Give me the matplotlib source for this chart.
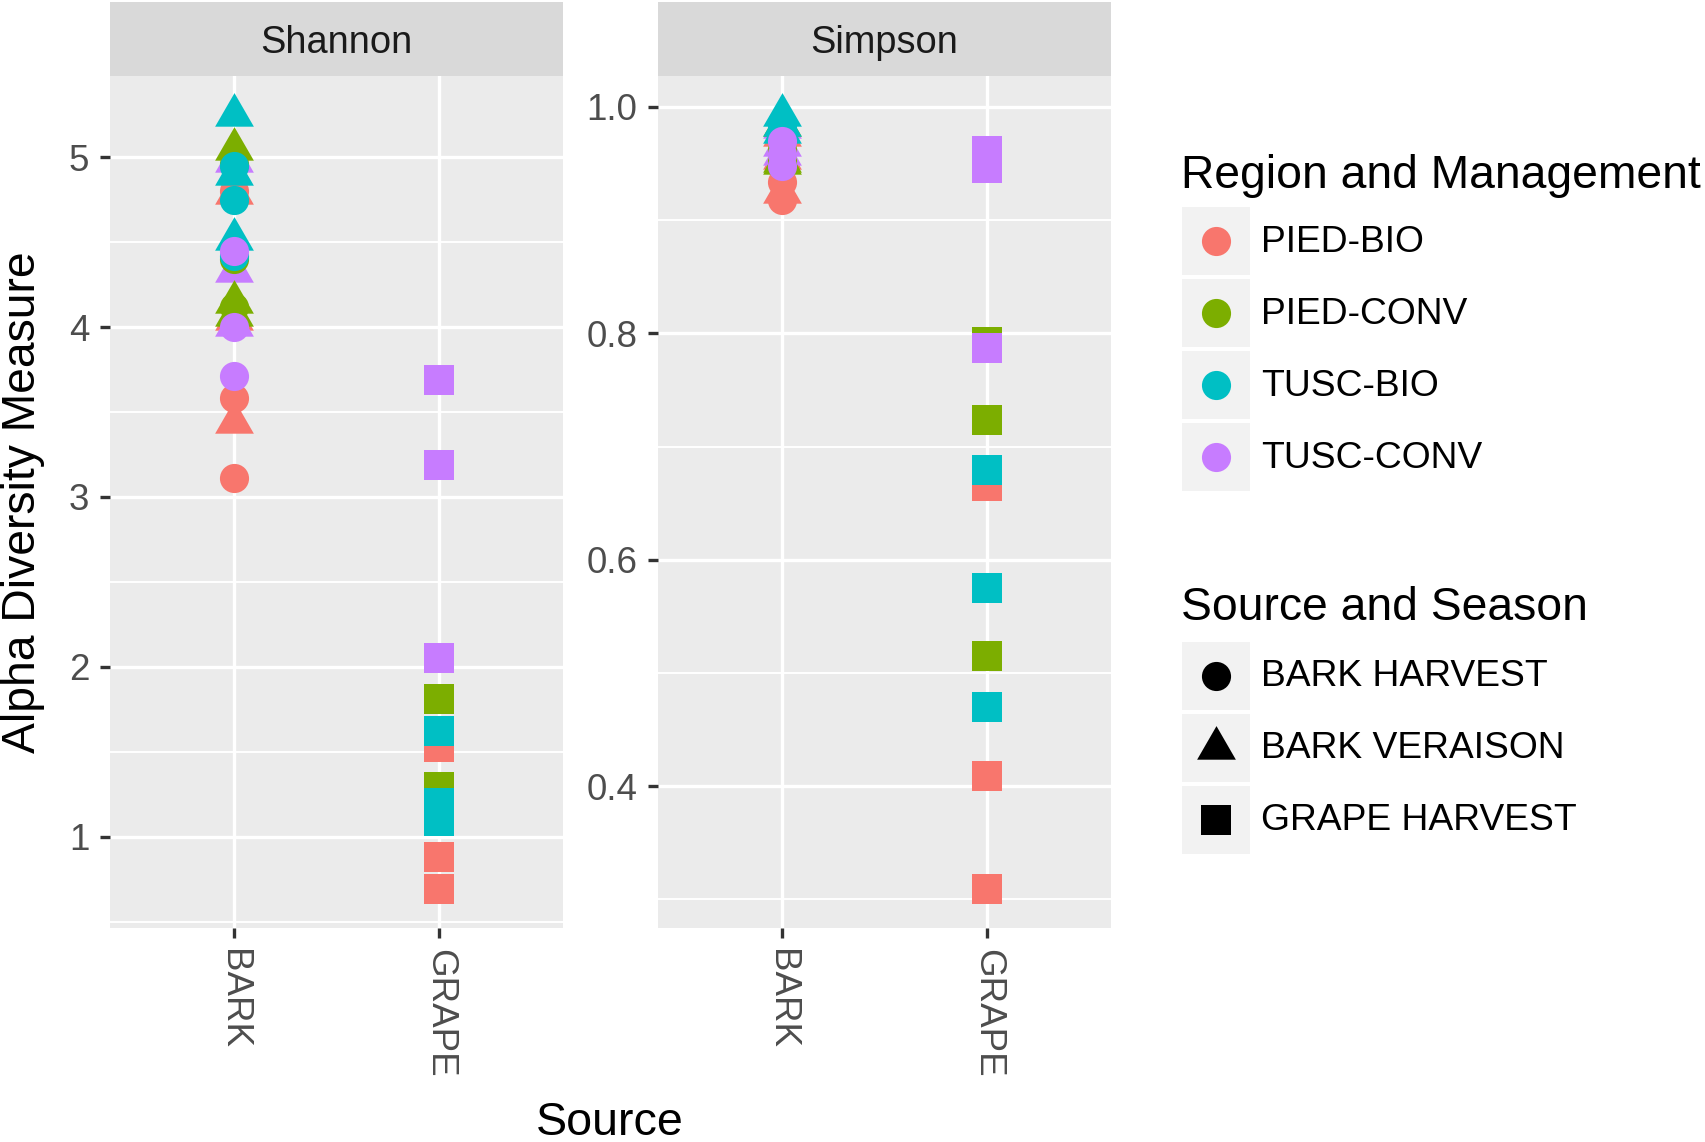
import numpy as np
import matplotlib
matplotlib.use("Agg")
import matplotlib.pyplot as plt
from matplotlib.path import Path
from matplotlib.patches import Rectangle

plt.rcParams['font.family'] = ['Liberation Sans', 'DejaVu Sans']

# ---- data (one entry per sample, in drawing order) ----
seasons = ["BARK HARVEST", "BARK VERAISON", "GRAPE HARVEST"]
regions = ["PIED-BIO", "PIED-CONV", "TUSC-BIO", "TUSC-CONV"]
colors = ["#F8766D", "#7CAE00", "#00BFC4", "#C77CFF"]

sample_season = (["BARK VERAISON"] * 3 + ["BARK HARVEST"] * 3 +
                 ["BARK VERAISON"] * 3 + ["BARK HARVEST"] * 3 +
                 ["BARK VERAISON"] * 3 + ["BARK HARVEST"] * 3 +
                 ["BARK VERAISON"] * 3 + ["BARK HARVEST"] * 3 +
                 ["GRAPE HARVEST"] * 12)
sample_region = (["PIED-BIO"] * 6 + ["TUSC-CONV"] * 3 + ["PIED-CONV"] * 3 +
                 ["PIED-CONV"] * 3 + ["TUSC-BIO"] * 3 +
                 ["TUSC-BIO"] * 3 + ["TUSC-CONV"] * 3 +
                 ["PIED-BIO"] * 3 + ["PIED-CONV"] * 3 +
                 ["TUSC-CONV"] * 3 + ["TUSC-BIO"] * 3)
shannon = [4.79, 4.05, 3.44, 4.80, 3.58, 3.11,
           4.98, 4.33, 4.01, 4.12, 4.40, 4.96,
           5.05, 4.15, 4.07, 4.95, 4.75, 4.42,
           5.25, 4.90, 4.52, 4.45, 4.00, 3.71,
           1.53, 0.88, 0.69, 1.81, 1.29, 1.15,
           3.69, 3.19, 2.05, 1.62, 1.20, 1.09]
simpson = [0.975, 0.955, 0.925, 0.972, 0.934, 0.918,
           0.982, 0.966, 0.958, 0.952, 0.962, 0.979,
           0.984, 0.952, 0.950, 0.986, 0.983, 0.976,
           0.993, 0.984, 0.978, 0.970, 0.958, 0.948,
           0.665, 0.409, 0.309, 0.792, 0.723, 0.515,
           0.961, 0.946, 0.787, 0.679, 0.575, 0.470]
sources = ["BARK", "GRAPE"]

# ---- marker shapes ----
tri = Path([(0, 1), (-0.866, -0.5), (0.866, -0.5), (0, 1)],
           [Path.MOVETO, Path.LINETO, Path.LINETO, Path.CLOSEPOLY])
shape = {"BARK HARVEST": ("o", 440), "BARK VERAISON": (tri, 1040),
         "GRAPE HARVEST": ("s", 441)}

W, H = 1706, 1142
fig = plt.figure(figsize=(W / 100, H / 100), dpi=100)


def box(x0, y0, x1, y1):
    return [x0 / W, 1 - y1 / H, (x1 - x0) / W, (y1 - y0) / H]


panels = [("Shannon", shannon, 110, 563, [1, 2, 3, 4, 5], [0.5, 1.5, 2.5, 3.5, 4.5, 5.5], ["1", "2", "3", "4", "5"]),
          ("Simpson", simpson, 658, 1111, [0.4, 0.6, 0.8, 1.0], [0.3, 0.5, 0.7, 0.9], ["0.4", "0.6", "0.8", "1.0"])]

for title, vals, x0, x1, major, minor, labels in panels:
    ax = fig.add_axes(box(x0, 76, x1, 928))
    ax.set_facecolor("#EBEBEB")
    for sp in ax.spines.values():
        sp.set_visible(False)
    lo, hi = min(vals), max(vals)
    pad = (hi - lo) * 0.05
    ax.set_ylim(lo - pad, hi + pad)
    ax.set_xlim(0.4, 2.6)
    for m in minor:
        ax.axhline(m, color="white", lw=1.4, zorder=0)
    for m in major:
        ax.axhline(m, color="white", lw=2.4, zorder=0)
    for k in range(len(sources)):
        ax.axvline(k + 1, color="white", lw=2.4, zorder=0)
    ax.set_yticks(major)
    ax.set_yticklabels(labels)
    ax.set_xticks([1, 2])
    ax.set_xticklabels(sources, rotation=-90, va="top", ha="center")
    ax.tick_params(length=7.5, width=2.4, color="#333333", labelcolor="#4D4D4D",
                   labelsize=26.5, pad=7.5)
    for i in range(len(vals)):
        mk, s = shape[sample_season[i]]
        c = colors[regions.index(sample_region[i])]
        xpos = 1 if sample_season[i].startswith("BARK") else 2
        ax.scatter([xpos], [vals[i]], marker=mk, s=s, color=c, linewidths=0, zorder=3)
    st = fig.add_axes(box(x0, 2, x1, 76))
    st.set_facecolor("#D9D9D9")
    st.set_xticks([])
    st.set_yticks([])
    for sp in st.spines.values():
        sp.set_visible(False)
    st.text(0.5, 0.44, title, ha="center", va="center", fontsize=27.4, color="#1A1A1A",
            transform=st.transAxes)

fig.text(23 / W, 1 - 502 / H, "Alpha Diversity Measure", rotation=90, ha="center",
         va="center", fontsize=33.3)
fig.text(610 / W, 1 - 1135 / H, "Source", ha="center", va="baseline", fontsize=33.6)

# ---- legends ----
lax = fig.add_axes([0, 0, 1, 1])
lax.set_xlim(0, W)
lax.set_ylim(H, 0)
lax.axis("off")
lax.patch.set_alpha(0)

kx0, kw, step = 1182, 68, 72
lax.text(1181, 188, "Region and Management", fontsize=33.3, va="baseline", ha="left")
for i, r in enumerate(regions):
    y = 207 + i * step
    lax.add_patch(Rectangle((kx0, y), kw, kw, facecolor="#F2F2F2", edgecolor="none"))
    lax.scatter([kx0 + kw / 2], [y + kw / 2], marker="o", s=440, color=colors[i], linewidths=0)
    lax.text(1261, y + kw / 2 + 1, r, fontsize=26.8, va="center", ha="left")

lax.text(1181, 620, "Source and Season", fontsize=33.3, va="baseline", ha="left")
for i, s_name in enumerate(seasons):
    y = 642 + i * step
    mk, s = shape[s_name]
    lax.add_patch(Rectangle((kx0, y), kw, kw, facecolor="#F2F2F2", edgecolor="none"))
    lax.scatter([kx0 + kw / 2], [y + kw / 2], marker=mk, s=s, color="black", linewidths=0)
    lax.text(1261, y + kw / 2 + 1, s_name, fontsize=26.8, va="center", ha="left")

fig.savefig("out.png", dpi=100)
